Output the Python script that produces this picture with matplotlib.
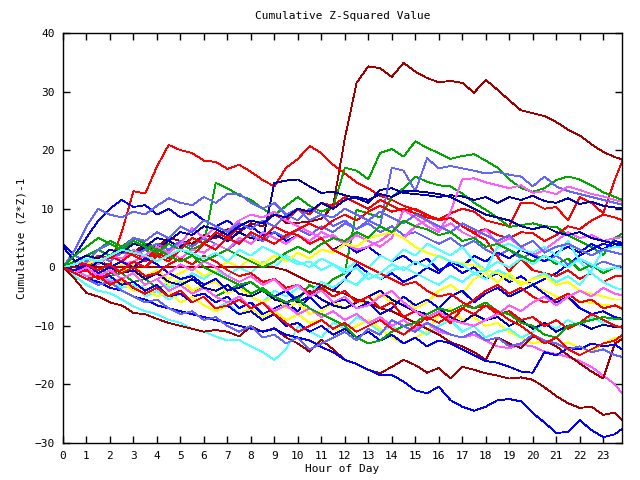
import numpy as np
import matplotlib
matplotlib.use("Agg")
import matplotlib.pyplot as plt

# hour grid, one reading every half hour (0 .. 24)
hours = np.arange(0, 24.01, 0.5)

RED = "#ff0000"
GREEN = "#00a800"
BLUE = "#0000ff"
NAVY = "#0000b0"
LBLUE = "#6464ff"
MAGENTA = "#ff5cff"
CYAN = "#50ffff"
YELLOW = "#ffff00"
DRED = "#a00000"

# cumulative (Z*Z)-1 per series
s01 = [0, 0.5, 1.5, 1, 2, 3, 2.5, 4, 3.5, 5, 4.5, 4, 5.5, 5, 6.5, 6, 7.5, 7, 9.5, 7.5,
       7.6, 7.8, 8.3, 10.5, 22, 31.5, 34.3, 34, 32.5, 34.9, 33.4, 32.3, 31.6, 31.8, 31.5, 29.8, 32, 30.3, 28.5, 26.8,
       26.3, 25.8, 24.8, 23.5, 22.5, 21, 19.7, 18.8, 18.2]
s02 = [0, 0.5, -0.5, 1, 0.4, 6, 13, 12.6, 17.2, 20.9, 20, 19.5, 18.2, 18, 16.8, 17.5, 16.3, 14.9, 13.8, 17,
       18.5, 20.7, 19.5, 17.5, 16, 14.5, 13.5, 12.2, 11.5, 10.5, 9.8, 8.9, 8.2, 9.2, 10, 9.5, 8, 7.5, 7, 11,
       11, 10, 10.3, 8, 12, 11, 9.2, 15, 20]
s03 = [0, 1, 2, 3, 2, 3.5, 2.5, 3, 2, 3, 4, 3, 4, 14.4, 13.5, 12.3, 11.5, 10, 8.9, 10.5,
       12, 10.5, 9.5, 10.3, 17, 16.5, 15, 19.5, 20.2, 18.9, 21.5, 20.4, 19.5, 18.5, 19, 19.3, 18.2, 17, 15, 13.5,
       12.9, 13.5, 14.9, 15.5, 15, 14, 12.8, 12, 11.2]
s04 = [0, -1, 1, 0, -1.5, -1, -2.5, -2, -3.5, -3, -2, -4, -3.5, -5, -4, -3, -4.5, -3.5, -5, -4,
       -5.5, -3, -4, -2, -1, 9.8, 9.2, 8.5, 12, 13.5, 15.5, 14.6, 14, 13.8, 12.6, 11, 9.8, 8.5, 6.9, 7.2,
       7.5, 7, 6.9, 5.5, 4.5, 3.5, 2.1, 5, 6.2]
s05 = [0, 1, 0.5, 2, 1.5, 3, 2, 3.5, 3, 4.5, 3.5, 5, 4, 5.5, 4.5, 6, 5, 4.5, 14.4, 14.8,
       15, 13.8, 12.7, 12.9, 12.3, 11.8, 11, 13.2, 13.5, 12.7, 12.5, 12.3, 12, 12.3, 12.1, 11.5, 12, 11, 12, 11.5,
       12.2, 11.3, 11, 11.8, 10.8, 11.2, 10.5, 10.2, 10]
s06 = [4, 2, 5, 8, 10, 11.5, 10.3, 10.6, 9, 10, 8.5, 9.5, 8, 7, 8, 6.5, 7, 5.5, 6, 4.5,
       5.5, 4, 5, 3, 4, 2.5, 3.5, 2, 1, 2, 0.5, 1.5, -0.5, 0.5, -1, 0, -2, -1, -2.5, -1.5,
       -3, -2, -1, 0.5, 2, 3, 4, 3.5, 4]
s07 = [0, 3, 7, 10, 9, 8.5, 9.5, 9, 10.5, 11.8, 11, 10.6, 12, 11, 12.5, 12.6, 11, 10, 11, 9,
       10, 8, 9, 7, 8, 6.5, 7.5, 6, 7, 5.5, 6, 5, 4, 5, 3.5, 4.5, 3, 2, 3, 1.5,
       2.5, 1, 2, 0.5, 1.5, 0, 1, 0.3, 0]
s08 = [0, 1, 0.5, 2, 1, 2.5, 2, 3, 4, 3, 4.5, 3.5, 5, 4, 3, 4.5, 5.5, 4.5, 6, 5,
       6.5, 5.5, 7, 6, 7.5, 6.5, 8, 7, 17, 16.5, 13, 18.6, 16.9, 17.3, 16.9, 16.5, 16, 16.3, 15.8, 15.5,
       13.8, 15.5, 13.8, 13, 12.5, 12, 11.5, 11, 10.5]
s09 = [0, -1, 0.5, 1, 2, 1, 2.5, 1.5, 3, 4, 3, 5, 4, 6, 5, 7, 8, 7.5, 9, 8,
       10, 9, 11, 10.5, 12, 11, 10, 11.5, 10.5, 9.5, 10, 9, 8, 8.5, 7, 6, 6.5, 5.5, 5, 6,
       5.8, 4.5, 5.5, 7, 6.5, 8, 9, 8.5, 7.8]
s10 = [0, -0.5, 1, 0.5, 2, 1.5, 3, 2, 1, 2.5, 1.5, 3, 2.5, 4, 3, 5, 4, 6, 5, 4,
       5.5, 4.5, 6, 5, 4, 5.5, 4.5, 3.5, 5, 9.8, 8.5, 7, 6, 9.5, 15, 15.2, 14.5, 14, 13.5, 14,
       12.7, 13, 12.5, 13.8, 13.2, 12.5, 12.1, 11.5, 11]
s11 = [0, -1, -0.5, -2, -1, 0.5, 1, 2, 3.5, 2.5, 4, 6.7, 5, 7, 6, 8, 9, 8.5, 9.5, 8,
       7, 6, 5, 5.5, 4, 3, 3.5, 4.5, 6, 5, 7, 8, 6.5, 7.5, 6, 5, 6.5, 4, 5, 3.5,
       2, 3, 4.5, 6, 5, 5.5, 4.5, 5, 5.2]
s12 = [0, -1, -2, -1.5, -3, -2, -4, -3.5, -5, -4, -6, -5, -4.5, -6, -5, -7, -6, -8, -7, -6,
       -7.5, -5, -3, -4, -2, 0.5, -1, -2, -1, -2.5, -1.5, 0, -1, 1, 0, 2, 1, 2.5, 1.5, 3,
       2, 1, 2.5, 3.5, 2.5, 4, 3, 4.5, 4]
s13 = [0, 1, 0, 2, 1.5, 3, 2, 1, 2.5, 1.5, 3, 2, 4, 3, 5, 4, 6, 5, 4, 5.5,
       6.5, 7.5, 6.5, 8, 9, 8, 9.5, 10.5, 9.5, 10, 9.2, 8.5, 8.1, 8.4, 7, 5.8, 4.7, 1.8, -0.7, 1.5,
       -0.5, -1, -1.5, -0.5, -2, -1, -2.5, -1.5, -1.6]
s14 = [0, -1, -2, -1, -3, -2.5, -4, -3, -2, -3.5, -2.5, -1, -2, -0.5, -1.5, 0, -1, 1, 0, 2,
       1, 0, 1.5, 0.5, -0.5, 1, 0, 2, 1, 3, 2, 4, 3, 2, 3.5, 1, -0.5, 3.5, 4, 3,
       2.5, 3.5, 2, 4.5, 1, -1, -2.5, -3.5, -4]
s15 = [0, -0.5, -1.5, -2.5, -2, -3.5, -3, -5, -4, -5.5, -4.5, -6, -5, -7, -6, -8, -7, -6, -4, -5,
       -3.5, -4.5, -2.5, -3.5, -2, -3, -1, -2, -0.5, 0, -1, -2, -3, -1.5, -2.5, -1, -2, -0.5, -1.5, -3,
       -2, -1, -2.5, -1.5, -3, -0.5, 3, 3.5, 3.3]
s16 = [0, 0.5, -0.5, 1, 0, -1, 0.5, -1.5, -0.5, -2, -1, 0, -1.5, -0.5, 1, 0, 1.5, 0.5, 2, 1,
       2.5, 1.5, 3, 2.5, 4, 3.5, 5, 5.5, 6, 5, 3.5, 2.5, 1.8, 1, 0.7, 0.3, -0.5, -1, -2, -2.5,
       -3, -4, -5, -5.5, -5.8, -6.1, -6.4, -6.6, -6.8]
s17 = [0, -1, -2, -1.5, -3, -2.5, -4, -3.5, -5, -4, -6, -5, -6.5, -7.5, -6.5, -8, -7, -8.5, -7.5, -9,
       -8, -9.5, -9, -10.5, -11, -10, -9, -10.5, -12, -13, -12, -11, -8, -7, -9, -8.5, -10, -9.5, -11, -12,
       -13, -12.5, -13.5, -12.8, -13.8, -14.5, -13, -12, -12.5]
s18 = [0, 1, 0.5, 1.5, -0.5, 0.5, -1, -2, -1, -3, -2, -4, -3, -2.5, -4.5, -3.5, -5, -6, -5, -7,
       -6, -8, -7.5, -6, -7, -5.5, -6.5, -4.5, -6, -5, -7, -6, -4, -3, -4.5, -2, -1, -2.5, -1, -3,
       -2, -1.5, -3, -2.5, -4, -4.5, -5, -5.5, -5.5]
s19 = [0, -1.5, -3, -4, -4.4, -5.5, -6.7, -7.5, -8, -9, -9.5, -10.5, -11, -11.8, -12.5, -12.4, -13.5, -14.5, -15.8, -14,
       -10.1, -11, -12, -9.5, -10.5, -8.5, -9.5, -11, -10, -11.5, -10.4, -11.5, -10, -9, -11, -10, -12, -11, -10.5, -12,
       -11, -9.5, -10.5, -9, -10, -8.5, -9.5, -8.5, -9]
s20 = [0, -0.5, -1.5, -1, -2.5, -2, -1, -3, -2, -4, -3, -4.5, -3.5, -5, -6, -5, -7, -6, -7.5, -6.5,
       -8, -7, -8.5, -7.5, -9, -8, -9.5, -8.5, -10, -9, -10.5, -9.5, -11, -11.5, -12, -11.5, -12.5, -13.5, -13.8, -13.2,
       -13.5, -14.4, -14.8, -15.3, -16, -17, -18.5, -20, -22.5]
s21 = [0, 0, 0, 0, 0, 0, 0, 0, 0, 0, 0, 0, 0, 0, 0, 0, 0, 0, 0, -0.5,
       -1.5, -2.5, -3, -4, -4.5, -5.5, -6, -7, -7.5, -8.5, -9.5, -10.5, -11.5, -12.8, -13.5, -14.5, -15.8, -12, -13, -13.8,
       -11.8, -12.5, -13.5, -15, -16.4, -17.8, -19, -13, -11.8]
s22 = [0, -2, -4.4, -5, -6, -6.5, -7.8, -8, -8.8, -9.5, -10, -10.5, -11, -10.7, -11, -11.8, -10.1, -11, -10.4, -12,
       -13, -14.4, -12.4, -14, -15.8, -16.5, -17.5, -18.1, -17, -15.8, -16.7, -18, -17.2, -19, -17, -17.5, -18.1, -18.5, -19, -18.8,
       -19.2, -20.5, -22, -23.2, -24, -23.8, -25.2, -24.8, -27]
s23 = [0, -1, -2, -2.5, -3.5, -4, -5, -5.5, -6.5, -7, -7.5, -8, -8.5, -9, -9.5, -10, -10.5, -11, -10.5, -11.5,
       -12, -12.5, -13.6, -14.5, -15.8, -16.5, -17.5, -18.4, -18.4, -19.5, -21, -21.5, -20.4, -22.7, -23.8, -24.5, -23.8, -22.7, -22.5, -22.9,
       -24.9, -26.5, -28.3, -28.1, -26.1, -27.8, -29, -28.5, -27]
s24 = [0, -1, -0.5, -2, -1.5, -3, -2.5, -4, -3, -5, -4.5, -6, -5, -7, -6.5, -8, -7.5, -9, -8, -10,
       -9.5, -11, -10, -11.5, -10.5, -12, -11, -12.5, -11.5, -13, -12, -13.5, -12.5, -13, -14, -15, -16, -16.3, -17, -17.8,
       -18, -14.5, -15, -13.8, -14, -13, -13.5, -13.2, -14.5]
s25 = [0, 0.5, -0.5, 1, 0, -1, -0.5, -2, -1, -2.5, -3, -2, -3.5, -4, -3, -4.5, -5, -4, -5.5, -6,
       -5, -4, -5.5, -6.5, -7, -6, -5, -4, -5.5, -6.5, -7.5, -8, -7, -8.5, -9.5, -8, -9, -8.5, -10, -9,
       -10.5, -9.5, -11, -10, -9.5, -10.5, -9.8, -10.2, -10]
s26 = [0, -0.5, 0.5, -1, 0, 1, 0, 1.5, 0.5, -1, -2, -1.5, -3, -2, -4, -3.5, -2.5, -4, -5, -4,
       -6, -5, -7, -6, -5.5, -7, -6, -8, -7, -5, -6.5, -5.5, -7, -5, -4, -6, -4.5, -3.5, -5, -4,
       -3, -4.5, -6, -5, -7, -8, -7.5, -8.5, -9]
s27 = [0, 1, 0.5, -0.5, 0.5, -1, 0, -1.5, -1, 0.5, 1.5, 0.5, 2, 1, -0.5, -1.5, -1, -2.5, -2, -3.5,
       -3, -4.5, -3.5, -5, -4, -6, -5, -7, -6, -8.5, -7.5, -9, -8, -9.5, -7, -5.5, -4, -3, -4.5, -3.5,
       -5, -6, -5.5, -4.5, -6, -5.5, -7, -6.5, -7.5]
s28 = [0, -1, -0.5, -2, -1, -0.5, 1, 0, 2, 1, 3, 2, 4, 3, 5, 4, 6, 5, 7, 6,
       5.5, 4, 5, 3, 2, 1, 0, -1, -2, -3, -2.5, -4, -5, -4.5, -6, -7, -6.5, -8, -7.5, -9,
       -8.5, -10, -9, -10.5, -9.5, -8, -9, -10, -10.5]
s29 = [0, 1, 2, 3, 4.5, 3.5, 5, 4, 3, 2, 1, 2, 0, -1, -2, -3, -2.5, -4, -5, -6,
       -5.5, -7, -8, -9, -10, -12, -13, -12.5, -11, -10, -9.5, -8, -7, -7.5, -6.5, -7, -6, -7.5, -8, -9.5,
       -10, -11.5, -12, -10, -9.5, -9, -8.5, -8.8, -8.7]
s30 = [0, -1, -2, -3, -2.5, -4, -5, -6, -5.5, -7, -8, -7.5, -9, -8.5, -10, -11, -10, -12, -11.5, -13,
       -12, -14, -13, -12, -11, -12.5, -10.5, -11.5, -9, -10, -11, -9.5, -10.5, -11.5, -12, -11, -12.5, -12, -13.5, -13,
       -11.5, -12.5, -13, -14, -13.5, -14.5, -14, -15, -15.5]
s31 = [0, 2, 1, 3, 4, 3, 5, 4.5, 6, 5, 7, 6, 8, 7, 6, 7.5, 6.5, 8, 7, 9,
       8, 10, 9, 8.5, 10, 9, 8, 9.5, 8.5, 7.5, 9, 8, 7, 6, 7.5, 6.5, 5.5, 4.5, 5.5, 3.5,
       4.5, 2.5, 3.5, 4, 3, 2, 3, 2.5, 2]
s32 = [3.5, 1, 2, 1.5, 3, 2.5, 4, 3.5, 5, 4.5, 6, 5.5, 7, 6.5, 5.5, 7, 8, 7.5, 9, 8.5,
       10, 9.5, 11, 10, 11.5, 12, 11.5, 12.5, 12, 13, 13, 12.8, 12.5, 12, 11, 10, 9, 8.5, 8, 7,
       6.5, 7, 6, 5.5, 6, 5, 4.5, 4, 3.8]
s33 = [0, -1, 0, -1.5, -0.5, -2, -1, -3, -2, -1, 0.5, -0.5, 1, 0, -1.5, -2.5, -1.5, -3, -2, -4,
       -3, -5, -4, -6, -5, -7, -6.5, -5, -4, -6, -7.5, -8.5, -7.5, -9, -9.5, -10, -9, -8, -6.5, -7.5,
       -6, -5, -6.5, -5, -4, -5, -3.5, -4.5, -5]
s34 = [0, 2, 3.5, 5, 4, 3, 4.5, 3.5, 2.5, 4, 3, 2, 1, 2, 3, 2, 1, 0, 1, 2.5,
       3.5, 2.5, 4, 5, 4.5, 6, 5, 7, 6, 8, 7, 6.5, 5.5, 6, 4.5, 5, 3.5, 4, 3, 2,
       1, 2, 0.5, 1.5, -0.5, 0.5, -1, 0, -0.5]
s35 = [0, 0.5, 1.5, 1, 2, 3, 2.5, 2, 1, 2, 3, 2.5, 1.5, 2.5, 1, 3, 2, 3.5, 2.5, 1.5,
       0.5, 1, -0.5, 0.5, -1, 0, -2, -1, 0.5, -0.5, 1, 0, 2, 1, 0.5, -1, -0.5, 1, 0, 1.5,
       0.5, 2, 1, 0, 1.5, 0.5, -0.5, 0, -0.5]
s36 = [0, -1, -2, -1.5, -3, -2, -3.5, -4.5, -3.5, -5, -4, -6, -5, -7, -6.5, -5.5, -7, -6, -8, -9.5,
       -11, -10, -9, -10.5, -9.5, -11, -10, -9, -10.5, -11.5, -10, -8.5, -9.5, -8, -7, -8, -6.5, -7.5, -9, -10,
       -11.5, -13, -12, -14, -15, -14, -13, -12.5, -11]

series = [s01, s02, s03, s04, s05, s06, s07, s08, s09, s10, s11, s12,
          s13, s14, s15, s16, s17, s18, s19, s20, s21, s22, s23, s24,
          s25, s26, s27, s28, s29, s30, s31, s32, s33, s34, s35, s36]
colors = [DRED, RED, GREEN, GREEN, NAVY, BLUE, LBLUE, LBLUE, RED, MAGENTA, MAGENTA, BLUE,
          RED, CYAN, CYAN, YELLOW, YELLOW, YELLOW, CYAN, MAGENTA, DRED, DRED, BLUE, BLUE,
          NAVY, BLUE, RED, RED, GREEN, LBLUE, LBLUE, NAVY, MAGENTA, GREEN, CYAN, RED]

font = "DejaVu Sans Mono"

fig = plt.figure(figsize=(6.4, 4.8), dpi=100)
ax = fig.add_axes([63 / 640, 37 / 480, 559 / 640, 410 / 480])

for vals, c in zip(series, colors):
    ax.plot(hours, vals, color=c, lw=0.6, antialiased=False)

ax.set_xlim(0, 23.8)
ax.set_ylim(-30, 40)
ax.set_xticks(range(0, 24))
ax.set_yticks(range(-30, 41, 10))
ax.tick_params(direction="in", top=True, right=True, length=5, width=1,
               labelsize=8, pad=6)
for lab in ax.get_xticklabels() + ax.get_yticklabels():
    lab.set_family(font)
for sp in ax.spines.values():
    sp.set_linewidth(1)

fig.text(342.5 / 640, 1 - 16 / 480, "Cumulative Z-Squared Value",
         ha="center", va="center", fontsize=8, family=font)
fig.text(342.5 / 640, 1 - 469 / 480, "Hour of Day",
         ha="center", va="center", fontsize=8, family=font)
fig.text(22 / 640, 1 - 238 / 480, "Cumulative (Z*Z)-1", rotation=90,
         ha="center", va="center", fontsize=8, family=font)

fig.savefig("out.png", dpi=100)
